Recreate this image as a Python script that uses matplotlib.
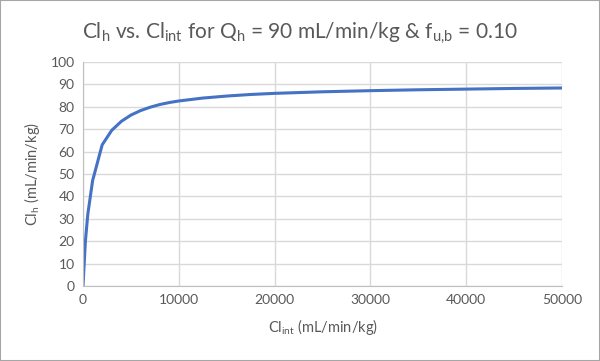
import matplotlib
matplotlib.use("Agg")
import matplotlib.pyplot as plt
from matplotlib.patches import Rectangle

plt.rcParams['font.family'] = ['Lato', 'DejaVu Sans']
plt.rcParams['mathtext.fontset'] = 'custom'
plt.rcParams['mathtext.rm'] = 'Lato'
plt.rcParams['mathtext.it'] = 'Lato'
plt.rcParams['mathtext.bf'] = 'Lato'

# Data
clint = [0, 250, 500, 1000, 2000, 3000, 4000, 5000, 6000, 7000, 8000, 9000,
         10000, 12500, 15000, 17500, 20000, 25000, 30000, 35000, 40000, 45000, 50000]
clh = [0, 20, 32, 47, 63, 69.5, 73.5, 76.3, 78.3, 79.8, 81.0, 81.9,
       82.6, 83.9, 84.8, 85.5, 86.0, 86.7, 87.2, 87.6, 87.9, 88.2, 88.4]

xticks = [0, 10000, 20000, 30000, 40000, 50000]
yticks = list(range(0, 101, 10))

W, H = 600, 361
fig = plt.figure(figsize=(W/100, H/100), dpi=100)
fig.patches.append(Rectangle((0, 0), 1, 1, transform=fig.transFigure,
                             fill=False, edgecolor='#a6a6a6', linewidth=1.5))

left, right, top, bottom = 83, 562, 62, 286
ax = fig.add_axes([left/W, 1 - bottom/H, (right-left)/W, (bottom-top)/H])
ax.plot(clint, clh, color='#4472C4', linewidth=2.2, solid_capstyle='round')
ax.set_xlim(0, 50000)
ax.set_ylim(0, 100)
ax.set_xticks(xticks)
ax.set_yticks(yticks)
ax.set_xticklabels([str(v) for v in xticks])
ax.grid(True, color='#d9d9d9', linewidth=1)
ax.set_axisbelow(True)
for s in ['top', 'right']:
    ax.spines[s].set_visible(False)
for s in ['left', 'bottom']:
    ax.spines[s].set_color('#bfbfbf')
ax.tick_params(length=0, labelsize=10, colors='#595959', pad=6)
ax.set_xlabel(r'Cl$_\mathregular{int}$ (mL/min/kg)', fontsize=10.5, color='#595959', labelpad=8)
ax.set_ylabel(r'Cl$_\mathregular{h}$ (mL/min/kg)', fontsize=10.5, color='#595959', labelpad=6)
fig.text(0.5, 1 - 33/H, r'Cl$_\mathregular{h}$ vs. Cl$_\mathregular{int}$ for Q$_\mathregular{h}$ = 90 mL/min/kg & f$_\mathregular{u{,}b}$ = 0.10',
         ha='center', va='center', fontsize=15, color='#595959')

fig.savefig('out.png', dpi=100)
